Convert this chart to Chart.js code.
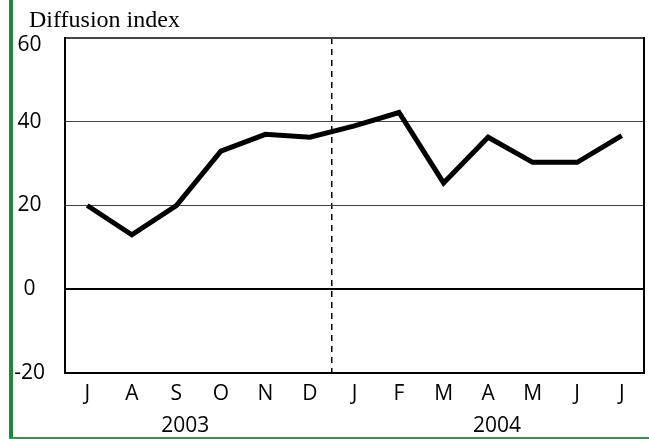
<!DOCTYPE html>
<html>
<head>
<meta charset="utf-8">
<script src="https://cdn.jsdelivr.net/npm/chart.js@4/dist/chart.umd.min.js"></script>
<style>
  html, body { margin: 0; padding: 0; background: #fff; }
  #wrap { position: relative; width: 649px; height: 439px; }
  #bar { position: absolute; left: 9px; top: 0; width: 4px; height: 439px; background: #1b8a3a; }
  #base { position: absolute; left: 9px; top: 437px; width: 640px; height: 2px; background: #2f9a45; }
  canvas { position: absolute; left: 0; top: 0; }
</style>
</head>
<body>
<div id="wrap">
  <canvas id="chart" width="649" height="439"></canvas>
  <div id="bar"></div>
  <div id="base"></div>
</div>
<script>
// months from July 2003 to July 2004
const months = ['J', 'A', 'S', 'O', 'N', 'D', 'J', 'F', 'M', 'A', 'M', 'J', 'J'];
const diffusion = [20, 13, 20, 33, 37, 36.3, 39, 42.2, 25.4, 36.3, 30.3, 30.3, 36.7];
const yTicks = [-20, 0, 20, 40, 60];
const years = ['2003', '2004'];
const yearTickAt = [2.2, 9.2]; // in category units
const titleText = 'Diffusion index';

const xFont = { family: '"Open Sans", sans-serif', size: 21 };
// small line height so the top label can be nudged down a bit
const yFont = { family: '"Open Sans", sans-serif', size: 21, lineHeight: 0.7 };

// title at top left, serif like the original
const titlePlugin = {
  id: 'topTitle',
  afterDraw(chart) {
    const ctx = chart.ctx;
    ctx.save();
    ctx.font = '24px "Liberation Serif", serif';
    ctx.fillStyle = '#000';
    ctx.textBaseline = 'alphabetic';
    ctx.fillText(titleText, 29, 27);
    ctx.restore();
  }
};

const ctx = document.getElementById('chart').getContext('2d');
new Chart(ctx, {
  type: 'line',
  data: {
    labels: months,
    datasets: [{
      data: diffusion,
      borderColor: '#000',
      borderWidth: 5,
      pointRadius: 0,
      tension: 0,
      fill: false
    }]
  },
  options: {
    responsive: false,
    animation: false,
    layout: { padding: { left: 14, top: 38, right: 5, bottom: 0 } },
    plugins: { legend: { display: false }, tooltip: { enabled: false } },
    scales: {
      x: {
        type: 'category',
        offset: true,
        weight: 0,
        grid: {
          offset: true,
          drawTicks: false,
          color: c => c.index === 6 ? '#000' : 'rgba(0,0,0,0)',
          lineWidth: 1.5
        },
        border: { display: true, color: '#000', width: 2, dash: [6, 5] },
        ticks: { color: '#000', font: xFont, padding: 8, maxRotation: 0, autoSkip: false },
        afterFit: s => { s.height = 32; }
      },
      x2: {
        type: 'linear',
        position: 'bottom',
        weight: 1,
        min: -0.5,
        max: 12.5,
        grid: { display: false },
        border: { display: false },
        ticks: {
          color: '#000', font: xFont, padding: 0, autoSkip: false, maxRotation: 0,
          callback: (v, i) => years[i]
        },
        afterBuildTicks: s => { s.ticks = yearTickAt.map(v => ({ value: v })); },
        afterFit: s => { s.height = 34; }
      },
      y: {
        min: -20,
        max: 60,
        grid: {
          drawTicks: false,
          color: c => {
            const v = c.tick && c.tick.value;
            if (v === 0) return '#000';
            if (v === -20) return 'rgba(0,0,0,0)';
            return '#444';
          },
          lineWidth: c => (c.tick && (c.tick.value === 0 || c.tick.value === 60)) ? 2 : 1
        },
        border: { display: true, color: '#000', width: 2 },
        ticks: {
          color: '#000', font: yFont, padding: 20, crossAlign: 'center',
          callback: v => v === 60 ? ['', String(v)] : String(v)
        },
        afterBuildTicks: s => { s.ticks = yTicks.map(v => ({ value: v })); },
        afterFit: s => { s.width = 51; }
      },
      y2: {
        position: 'right',
        min: -20,
        max: 60,
        grid: { display: false, drawTicks: false },
        border: { display: true, color: '#000', width: 2 },
        ticks: { display: false },
        afterFit: s => { s.width = 0; }
      }
    }
  },
  plugins: [titlePlugin]
});
</script>
</body>
</html>
